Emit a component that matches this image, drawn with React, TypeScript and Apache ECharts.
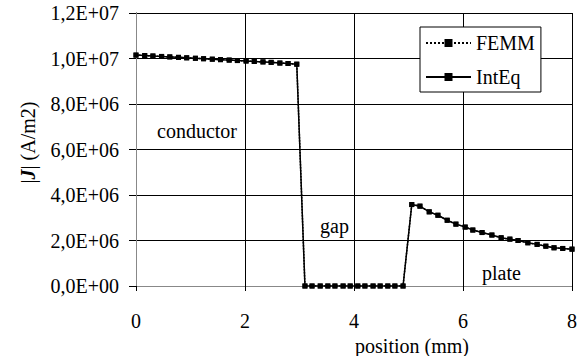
import React, { useEffect, useRef } from "react";
import * as echarts from "echarts";

const conductorX = [0, 0.16, 0.31, 0.47, 0.62, 0.78, 0.93, 1.09, 1.24, 1.40, 1.55, 1.71, 1.86, 2.02, 2.17, 2.33, 2.48, 2.64, 2.79, 2.95];
const conductorY = [1.015e7, 1.013e7, 1.011e7, 1.009e7, 1.007e7, 1.005e7, 1.003e7, 1.001e7, 9.99e6, 9.97e6, 9.95e6, 9.93e6, 9.91e6, 9.89e6, 9.87e6, 9.85e6, 9.83e6, 9.80e6, 9.78e6, 9.75e6];
const gapX = [3.10, 3.23, 3.38, 3.52, 3.65, 3.80, 3.93, 4.07, 4.20, 4.35, 4.48, 4.62, 4.75, 4.90];
const gapY = [0, 0, 0, 0, 0, 0, 0, 0, 0, 0, 0, 0, 0, 0];
const plateX = [5.06, 5.21, 5.38, 5.54, 5.71, 5.87, 6.04, 6.18, 6.35, 6.53, 6.70, 6.86, 7.01, 7.19, 7.36, 7.52, 7.67, 7.83, 8.0];
const plateY = [3.58e6, 3.51e6, 3.26e6, 3.11e6, 2.89e6, 2.72e6, 2.59e6, 2.46e6, 2.35e6, 2.24e6, 2.12e6, 2.06e6, 2.0e6, 1.9e6, 1.83e6, 1.75e6, 1.68e6, 1.65e6, 1.62e6];
const seriesNames = ["FEMM", "IntEq"];
const regionLabels = ["conductor", "gap", "plate"];

const FONT = "Liberation Serif";
const FS = 20;

function fmtY(v: number): string {
  if (v === 0) return "0,0E+00";
  const e = Math.floor(Math.log10(v) + 1e-9);
  const m = v / Math.pow(10, e);
  return m.toFixed(1).replace(".", ",") + "E+" + (e < 10 ? "0" + e : String(e));
}

export default function App() {
  const ref = useRef<HTMLDivElement>(null);
  useEffect(() => {
    if (!ref.current) return;
    const chart = echarts.init(ref.current, undefined, { renderer: "svg" });
    const xs = [...conductorX, ...gapX, ...plateX];
    const ys = [...conductorY, ...gapY, ...plateY];
    const data = xs.map((x, i) => [x, ys[i]]);
    chart.setOption({
      animation: false,
      backgroundColor: "#fff",
      textStyle: { fontFamily: FONT, fontSize: FS, color: "#000" },
      grid: { left: 136, right: 13, top: 13, bottom: 70, containLabel: false, outerBoundsMode: "none" },
      legend: {
        orient: "vertical",
        left: 420,
        top: 27,
        padding: [6, 6, 5, 5],
        itemWidth: 45,
        itemHeight: 10,
        itemGap: 14,
        backgroundColor: "#fff",
        borderColor: "#000",
        borderWidth: 1,
        borderRadius: 0,
        textStyle: { fontFamily: FONT, fontSize: FS, color: "#000" },
        data: seriesNames,
      },
      xAxis: [
        {
          type: "value",
          min: 0,
          max: 8,
          interval: 2,
          name: "position (mm)",
          nameLocation: "middle",
          nameGap: 44,
          nameTextStyle: { fontFamily: FONT, fontSize: FS, color: "#000", padding: [0, 0, 0, 116] },
          axisLine: { show: true, onZero: false, lineStyle: { color: "#000", width: 1 } },
          axisTick: { show: true, length: 5, lineStyle: { color: "#000" } },
          axisLabel: { fontFamily: FONT, fontSize: FS, color: "#000", margin: 25 },
          splitLine: { show: true, lineStyle: { color: "#000", width: 1 } },
        },
        {
          type: "value",
          position: "top",
          min: 0,
          max: 8,
          axisLine: { show: true, lineStyle: { color: "#888", width: 1 } },
          axisTick: { show: false },
          axisLabel: { show: false },
          splitLine: { show: false },
        },
      ],
      yAxis: [
        {
          type: "value",
          min: 0,
          max: 1.2e7,
          interval: 2e6,
          name: "{a||}{j|J}{a|| (A/m2)}",
          nameLocation: "middle",
          nameRotate: 90,
          nameGap: 98,
          nameTextStyle: {
            fontFamily: FONT,
            fontSize: FS,
            color: "#000",
            padding: [0, 0, 0, 14],
            rich: {
              a: { fontFamily: FONT, fontSize: FS, color: "#000" },
              j: { fontFamily: FONT, fontSize: FS, color: "#000", fontWeight: "bold", fontStyle: "italic" },
            },
          },
          axisLine: { show: true, lineStyle: { color: "#000", width: 1 } },
          axisTick: { show: true, length: 7, lineStyle: { color: "#000" } },
          axisLabel: { fontFamily: FONT, fontSize: FS, color: "#000", margin: 17, formatter: fmtY },
          splitLine: { show: true, lineStyle: { color: "#000", width: 1 } },
        },
        {
          type: "value",
          position: "right",
          min: 0,
          max: 1.2e7,
          axisLine: { show: true, lineStyle: { color: "#888", width: 1 } },
          axisTick: { show: false },
          axisLabel: { show: false },
          splitLine: { show: false },
        },
      ],
      graphic: [
        { type: "text", left: 157, top: 121, style: { text: regionLabels[0], fontFamily: FONT, fontSize: FS, fill: "#000" } },
        { type: "text", left: 320, top: 216, style: { text: regionLabels[1], fontFamily: FONT, fontSize: FS, fill: "#000" } },
        { type: "text", left: 482, top: 263, style: { text: regionLabels[2], fontFamily: FONT, fontSize: FS, fill: "#000" } },
      ],
      series: [
        {
          name: seriesNames[0],
          type: "line",
          data,
          symbol: "rect",
          symbolSize: 5,
          itemStyle: { color: "#000" },
          lineStyle: { color: "#000", width: 1.5, type: "dotted" },
          z: 3,
        },
        {
          name: seriesNames[1],
          type: "line",
          data,
          symbol: "rect",
          symbolSize: 5,
          itemStyle: { color: "#000" },
          lineStyle: { color: "#000", width: 1.5, type: "solid" },
          z: 4,
        },
      ],
    });
    return () => chart.dispose();
  }, []);
  return <div ref={ref} style={{ width: 585, height: 356, position: "absolute", left: 0, top: 0 }} />;
}
